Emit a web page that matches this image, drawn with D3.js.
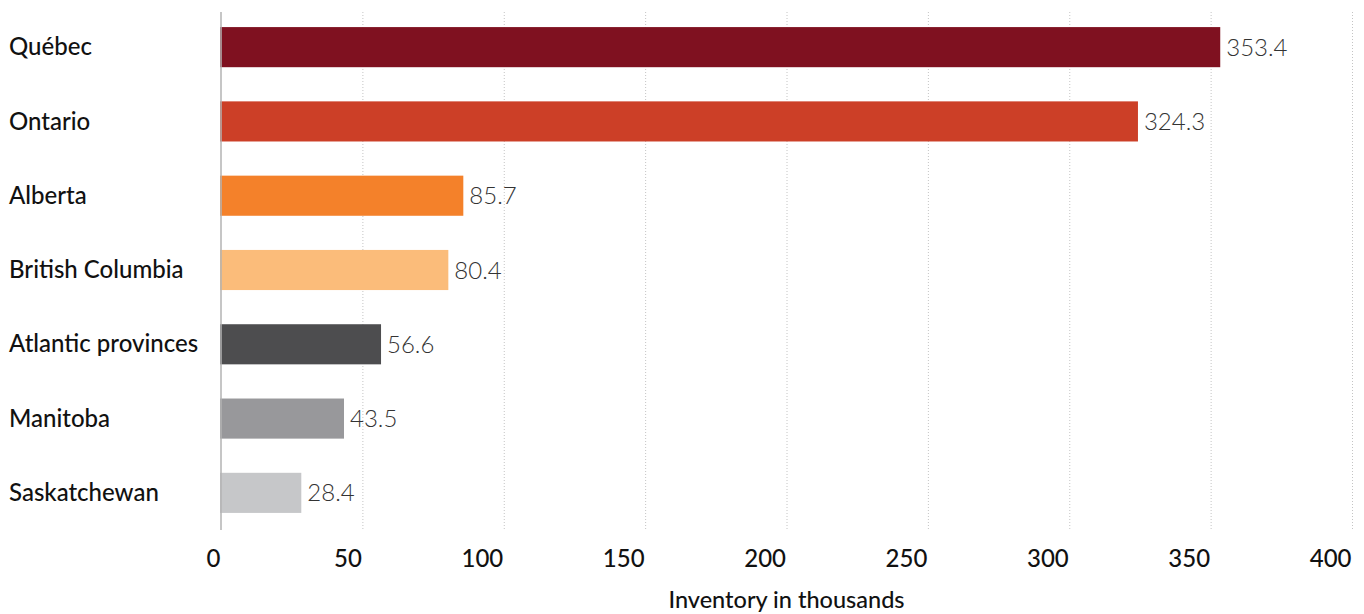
<!DOCTYPE html>
<html>
<head>
<meta charset="utf-8">
<script src="https://cdn.jsdelivr.net/npm/d3@7"></script>
<style>
  html, body { margin: 0; padding: 0; background: #fff; }
  svg { display: block; font-family: Lato, "Open Sans", sans-serif; }
</style>
</head>
<body>
<svg id="chart" width="1364" height="614"></svg>
<script>
// Inventory by province (thousands)
const provinces = ["Québec", "Ontario", "Alberta", "British Columbia", "Atlantic provinces", "Manitoba", "Saskatchewan"];
const inventory = [353.4, 324.3, 85.7, 80.4, 56.6, 43.5, 28.4];
const barColors = ["#7f1120", "#cc3f27", "#f4812a", "#fbbc7a", "#4d4d4f", "#98989b", "#c6c7c9"];
const xTicks = [0, 50, 100, 150, 200, 250, 300, 350, 400];
const xTitle = "Inventory in thousands";

const svg = d3.select("#chart");
const margin = { left: 221, right: 12, top: 10, bottom: 84 };
const W = 1364, H = 614;

const x = d3.scaleLinear().domain([0, 400]).range([margin.left, W - margin.right]);
const y = d3.scaleBand().domain(provinces).range([margin.top, H - margin.bottom]).paddingInner(0.46).paddingOuter(0.23);

const rows = provinces.map((p, i) => ({ name: p, value: inventory[i], color: barColors[i] }));

// dotted vertical gridlines
svg.append("g")
  .selectAll("line")
  .data(xTicks.filter(t => t > 0))
  .join("line")
  .attr("x1", d => x(d) + 0.5).attr("x2", d => x(d) + 0.5)
  .attr("y1", 12).attr("y2", 530)
  .attr("stroke", "#c4c4c4")
  .attr("stroke-width", 1)
  .attr("stroke-dasharray", "1,2");

// bars
svg.append("g")
  .selectAll("rect")
  .data(rows)
  .join("rect")
  .attr("x", x(0) - 1)
  .attr("y", d => y(d.name))
  .attr("width", d => x(d.value) - x(0) + 1)
  .attr("height", y.bandwidth())
  .attr("fill", d => d.color);

// zero baseline
svg.append("line")
  .attr("x1", x(0)).attr("x2", x(0))
  .attr("y1", 12).attr("y2", 530)
  .attr("stroke", "#b3b3b3")
  .attr("stroke-width", 1.5);

// value labels
svg.append("g")
  .selectAll("text")
  .data(rows)
  .join("text")
  .attr("x", d => x(d.value) + 6)
  .attr("y", d => y(d.name) + y.bandwidth() / 2)
  .attr("dy", "0.36em")
  .attr("font-size", 24)
  .attr("font-weight", 300)
  .attr("fill", "#333")
  .text(d => d.value.toFixed(1));

// category labels
svg.append("g")
  .selectAll("text")
  .data(rows)
  .join("text")
  .attr("x", 9)
  .attr("y", d => y(d.name) + y.bandwidth() / 2)
  .attr("dy", "0.34em")
  .attr("font-size", 24)
  .attr("font-weight", 500)
  .attr("fill", "#111")
  .text(d => d.name);

// x axis tick labels, right-aligned at each tick
const axis = d3.axisBottom(x).tickValues(xTicks).tickSize(0).tickPadding(0);
const gx = svg.append("g").attr("transform", `translate(0,${H - margin.bottom})`).call(axis);
gx.select(".domain").remove();
gx.selectAll("text")
  .attr("text-anchor", "end")
  .attr("x", -1)
  .attr("y", 37)
  .attr("dy", 0)
  .attr("font-size", 24)
  .attr("font-weight", 500)
  .attr("font-family", "Lato, 'Open Sans', sans-serif")
  .attr("fill", "#111");

// axis title
svg.append("text")
  .attr("x", (x(0) + x(400)) / 2)
  .attr("y", 608)
  .attr("text-anchor", "middle")
  .attr("font-size", 23.5)
  .attr("font-weight", 500)
  .attr("fill", "#111")
  .text(xTitle);
</script>
</body>
</html>
